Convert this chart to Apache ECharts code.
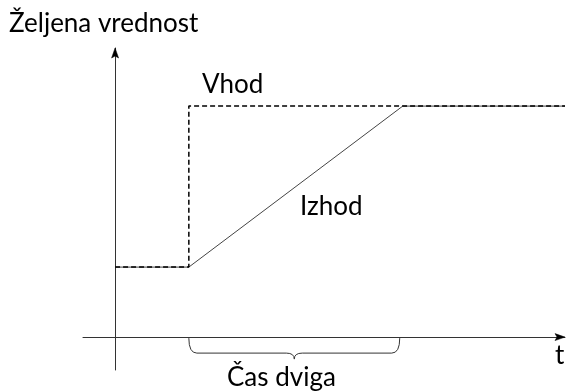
<!DOCTYPE html>
<html>
<head>
<meta charset="utf-8">
<script src="https://cdn.jsdelivr.net/npm/echarts@6/dist/echarts.min.js"></script>
<style>html,body{margin:0;padding:0;background:#fff}#c{width:566px;height:392px}</style>
</head>
<body>
<div id="c"></div>
<script>
// time points (arbitrary units)
const vhodT = [0, 2, 2, 12.2];
const vhodY = [1, 1, 3.3, 3.3];
const izhodT = [0, 2, 7.8, 12.2];
const izhodY = [1, 1, 3.3, 3.3];
const braceRange = [2, 7.8];
const xRange = [-0.87, 12.2];
const yRange = [-0.47, 4.13];
const labels = {
  yName: 'Željena vrednost',
  xName: 't',
  vhod: 'Vhod',
  izhod: 'Izhod',
  brace: 'Čas dviga'
};

const FONT = 'Lato';
const FS = 26;
const chart = echarts.init(document.getElementById('c'));

function pairs(xs, ys) { return xs.map((x, i) => [x, ys[i]]); }

const axisLine = {
  show: true, onZero: true,
  lineStyle: { color: '#333', width: 1 }
};

chart.setOption({
  animation: false,
  grid: { left: 83, right: 1, top: 48, bottom: 22 },
  xAxis: {
    type: 'value', min: xRange[0], max: xRange[1],
    axisLine: axisLine,
    axisTick: { show: false }, axisLabel: { show: false }, splitLine: { show: false }
  },
  yAxis: {
    type: 'value', min: yRange[0], max: yRange[1],
    axisLine: axisLine,
    axisTick: { show: false }, axisLabel: { show: false }, splitLine: { show: false }
  },
  series: [
    {
      type: 'line', name: 'Izhod', data: pairs(izhodT, izhodY), symbol: 'none',
      lineStyle: { color: '#444', width: 1 }, z: 2
    },
    {
      type: 'line', name: 'Vhod', data: pairs(vhodT, vhodY), symbol: 'none',
      lineStyle: { color: '#000', width: 1.5, type: [5, 3] }, z: 3
    },
    {
      type: 'custom', data: [braceRange],
      renderItem: function (params, api) {
        const p1 = api.coord([api.value(0), 0]);
        const p2 = api.coord([api.value(1), 0]);
        const x1 = p1[0], x2 = p2[0] - 3, y0 = p1[1] + 1;
        const y1 = y0 + 15, y2 = y0 + 21, r = 8;
        const xm = (x1 + x2) / 2;
        const d = `M${x1},${y0} Q${x1},${y1} ${x1 + r},${y1} L${xm - r},${y1} Q${xm},${y1} ${xm},${y2} Q${xm},${y1} ${xm + r},${y1} L${x2 - r},${y1} Q${x2},${y1} ${x2},${y0}`;
        return {
          type: 'path',
          shape: { pathData: d },
          style: { fill: 'none', stroke: '#333', lineWidth: 1 }
        };
      }
    },
    {
      // axis arrowheads at the axis ends
      type: 'custom', data: [[xRange[1], 0, 0], [0, yRange[1], 1]], z: 5,
      renderItem: function (params, api) {
        const p = api.coord([api.value(0), api.value(1)]);
        const vertical = api.value(2) === 1;
        const L = 10, W = 3.5;
        let pts;
        if (vertical) {
          pts = [[p[0], p[1]], [p[0] - W, p[1] + L], [p[0], p[1] + L - 2], [p[0] + W, p[1] + L]];
        } else {
          pts = [[p[0], p[1]], [p[0] - L, p[1] - W], [p[0] - L + 2, p[1]], [p[0] - L, p[1] + W]];
        }
        return {
          type: 'polygon',
          shape: { points: pts },
          style: { fill: '#000', stroke: '#000', lineWidth: 0.5 }
        };
      }
    }
  ],
  graphic: [
    { type: 'text', left: 9, top: 11, style: { text: labels.yName, font: FS + 'px ' + FONT, fill: '#000' } },
    { type: 'text', left: 202, top: 72, style: { text: labels.vhod, font: FS + 'px ' + FONT, fill: '#000' } },
    { type: 'text', left: 300, top: 194, style: { text: labels.izhod, font: FS + 'px ' + FONT, fill: '#000' } },
    { type: 'text', left: 555, top: 343, style: { text: labels.xName, font: FS + 'px ' + FONT, fill: '#000' } },
    { type: 'text', left: 227, top: 365, style: { text: labels.brace, font: FS + 'px ' + FONT, fill: '#000' } }
  ]
});
</script>
</body>
</html>
